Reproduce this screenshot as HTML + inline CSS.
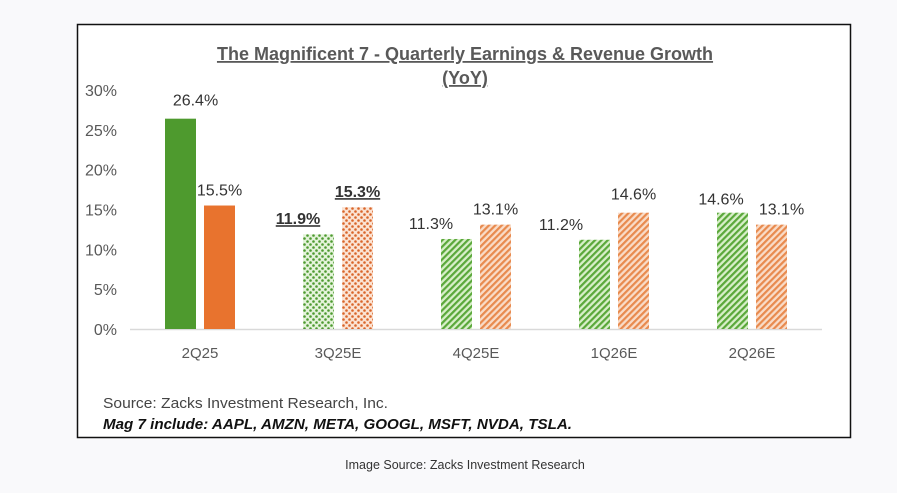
<!DOCTYPE html>
<html><head><meta charset="utf-8"><style>
html,body{margin:0;padding:0;background:#f9f9fb;}
body{width:897px;height:493px;position:relative;overflow:hidden;font-family:"Liberation Sans",sans-serif;}
svg{position:absolute;left:0;top:0;}
</style></head><body>
<svg width="897" height="493">
<defs>
<pattern id="gstripe" width="4.5" height="4.5" patternUnits="userSpaceOnUse" patternTransform="rotate(45)"><rect width="4.5" height="4.5" fill="#d8efc9"/><rect width="2.2" height="4.5" fill="#5aa83a"/></pattern>
<pattern id="ostripe" width="4.5" height="4.5" patternUnits="userSpaceOnUse" patternTransform="rotate(45)"><rect width="4.5" height="4.5" fill="#f9dcc8"/><rect width="2.2" height="4.5" fill="#e88a4e"/></pattern>
<pattern id="gdot" width="6" height="6" patternUnits="userSpaceOnUse"><rect width="6" height="6" fill="#e4f3da"/><circle cx="1.5" cy="1.5" r="1.3" fill="#4d9a30"/><circle cx="4.5" cy="4.5" r="1.3" fill="#4d9a30"/></pattern>
<pattern id="odot" width="6" height="6" patternUnits="userSpaceOnUse"><rect width="6" height="6" fill="#fbe3d3"/><circle cx="1.5" cy="1.5" r="1.3" fill="#d9652a"/><circle cx="4.5" cy="4.5" r="1.3" fill="#d9652a"/></pattern>
</defs>
<rect x="77.5" y="24.5" width="773" height="413" fill="#fff" stroke="#111" stroke-width="1.5"/>
<text x="465" y="60" text-anchor="middle" font-size="18" font-weight="bold" fill="#595959" text-decoration="underline">The Magnificent 7 - Quarterly Earnings &amp; Revenue Growth</text>
<text x="465" y="84" text-anchor="middle" font-size="18" font-weight="bold" fill="#595959" text-decoration="underline">(YoY)</text>
<g id="plot"></g>
<text x="103" y="408" font-size="15" fill="#444" textLength="285" lengthAdjust="spacingAndGlyphs">Source: Zacks Investment Research, Inc.</text>
<text x="103" y="429" font-size="15" fill="#111" font-weight="bold" font-style="italic" textLength="469" lengthAdjust="spacingAndGlyphs">Mag 7 include: AAPL, AMZN, META, GOOGL, MSFT, NVDA, TSLA.</text>
<text x="465" y="469" text-anchor="middle" font-size="12.5" fill="#333">Image Source: Zacks Investment Research</text>
</svg>
<script>
const categories = ["2Q25","3Q25E","4Q25E","1Q26E","2Q26E"];
const earnings = [26.4, 11.9, 11.3, 11.2, 14.6];
const revenue = [15.5, 15.3, 13.1, 14.6, 13.1];
const yTicks = [0,5,10,15,20,25,30];
const NS="http://www.w3.org/2000/svg";
const g=document.getElementById('plot');
const y0=329, pxPer=239/30;
const yScale=v=>y0-v*pxPer;
const xCenter=i=>200+i*138;
function mk(tag,attrs,text){const e=document.createElementNS(NS,tag);for(const k in attrs)e.setAttribute(k,attrs[k]);if(text!==undefined)e.textContent=text;g.appendChild(e);return e;}
yTicks.forEach(t=>{
  const e=mk('text',{x:117,y:yScale(t)+6,'text-anchor':'end','font-size':16,fill:'#595959'},t+'%');
  
  
});
const ax=mk('line',{x1:130,y1:y0+0.5,x2:822,y2:y0+0.5,stroke:'#d9d9d9','stroke-width':1.5});


categories.forEach((c,i)=>{
  const cx=xCenter(i);
  const lab=mk('text',{x:cx,y:358,'text-anchor':'middle','font-size':15,fill:'#595959'},c);
  
  
  const gf=i===0?'#4e9a2e':(i===1?'url(#gdot)':'url(#gstripe)');
  const of=i===0?'#e8732e':(i===1?'url(#odot)':'url(#ostripe)');
  const bw=31;
  const gx=cx-35, ox=cx+4;
  const b1=mk('rect',{x:gx,y:yScale(earnings[i]),width:bw,height:y0-yScale(earnings[i]),fill:gf});
  
  
  const b2=mk('rect',{x:ox,y:yScale(revenue[i]),width:bw,height:y0-yScale(revenue[i]),fill:of});
  
  
  const ul=i===1;
  let ex=gx+bw/2, rx=ox+bw/2, ey=yScale(earnings[i])-10, ry=yScale(revenue[i])-10;
  if(i===0){ex=gx+bw/2+15; ey=yScale(earnings[i])-13;}
  if(i===1){ex=gx-5;}
  if(i===2){ex=gx-10;}
  if(i===3){ex=gx-18; ry=yScale(revenue[i])-13;}
  if(i===4){ex=gx+4; rx=ox+bw/2+10; ey=yScale(earnings[i])-8;}
  const t1=mk('text',{x:ex,y:ey,'text-anchor':'middle','font-size':16,fill:'#333','font-weight':ul?'bold':'normal','text-decoration':ul?'underline':'none'},earnings[i].toFixed(1)+'%');
  
  
  const t2=mk('text',{x:rx,y:ry,'text-anchor':'middle','font-size':16,fill:'#333','font-weight':ul?'bold':'normal','text-decoration':ul?'underline':'none'},revenue[i].toFixed(1)+'%');
  
  
});
</script>
</body></html>
